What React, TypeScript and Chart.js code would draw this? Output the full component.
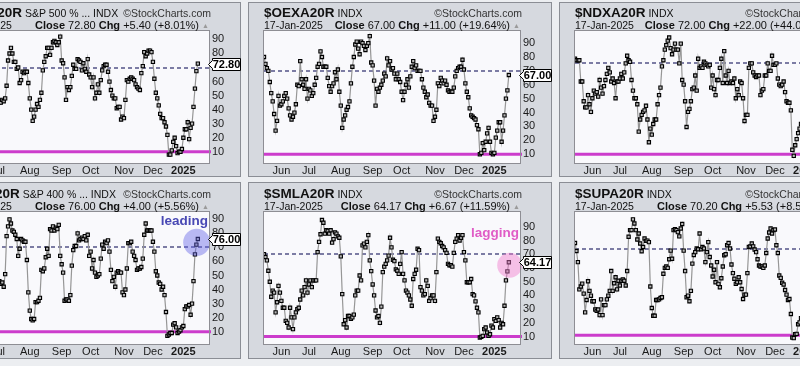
import React, { useEffect, useRef } from "react";
import { Chart, registerables } from "chart.js";
Chart.register(...registerables);

const FONT = "'Liberation Sans', Arial, Helvetica, sans-serif";

// ---- shared axis data ----
const monthTickIndex = [12, 31, 53, 75, 95, 118, 138, 159];
const monthTickLabels = ["Jun", "Jul", "Aug", "Sep", "Oct", "Nov", "Dec", "2025"];
const yTickValues = [10, 20, 30, 40, 50, 60, 70, 80, 90];
const X_MAX = 176.7;
const LOWER_LINE = 10;
const UPPER_LINE = 70;

// ---- series (one value per trading day, mid-May 2024 .. 17-Jan-2025) ----
const spxa20r = [
  78, 74, 70, 66, 58, 50, 44, 36, 28, 33,
  48, 44, 45, 47, 50, 52, 49, 42, 37, 34,
  36, 40, 45, 57, 58, 73, 63, 58, 55, 60,
  50, 46, 45, 45, 47, 46, 48, 57, 75, 80,
  84, 80, 74, 74, 69, 70, 59, 61, 67, 66,
  67, 67, 59, 48, 40, 32, 35, 40, 44, 42,
  47, 52, 68, 74, 78, 84, 84, 79, 84, 88,
  89, 88, 86, 88, 92, 75, 73, 63, 47, 56,
  54, 56, 64, 72, 69, 69, 76, 75, 74, 68,
  73, 69, 67, 76, 65, 63, 56, 63, 48, 52,
  58, 52, 61, 68, 71, 72, 72, 67, 60, 54,
  50, 48, 48, 41, 42, 42, 33, 35, 34, 47,
  61, 60, 62, 63, 62, 61, 58, 56, 55, 54,
  66, 71, 81, 78, 80, 82, 82, 81, 74, 62,
  52, 48, 43, 37, 34, 34, 31, 28, 22, 8,
  8, 11, 17, 20, 14, 9, 10, 10, 12, 20,
  26, 26, 31, 19, 27, 30, 42, 55, 67.4, 72.8,
];

const oexa20r = [
  80, 75, 72, 70, 62, 54, 48, 39, 27, 34,
  52, 45, 46, 48, 52, 54, 50, 43, 38, 35,
  37, 40, 46, 60, 59, 77, 64, 60, 57, 64,
  50, 57, 56, 52, 54, 60, 65, 73, 75, 84,
  80, 73, 73, 73, 65, 59, 55, 59, 61, 69,
  64, 71, 55, 45, 29, 35, 38, 42, 44, 48,
  61, 73, 80, 89, 91, 86, 82, 91, 90, 88,
  85, 88, 90, 95, 76, 74, 63, 45, 57, 55,
  58, 60, 63, 68, 66, 79, 74, 77, 71, 72,
  68, 64, 68, 64, 62, 55, 49, 55, 60, 64,
  58, 66, 73, 77, 72, 74, 70, 70, 70, 64,
  58, 55, 51, 53, 47, 45, 45, 34, 37, 42,
  61, 59, 65, 63, 61, 63, 60, 56, 55, 55,
  55, 58, 66, 70, 72, 73, 73, 78, 71, 61,
  55, 51, 43, 38, 37, 36, 35, 31, 28, 10,
  11, 18, 13, 19, 25, 29, 19, 11, 10, 11,
  22, 27, 33, 33, 19, 27, 38, 50, 56, 67,
];

const ndxa20r = [
  73, 72, 72, 72, 58, 58, 45, 41, 41, 49,
  43, 38, 47, 52, 50, 51, 48, 59, 54, 50,
  55, 59, 63, 67, 64, 58, 60, 57, 47, 58,
  58, 60, 63, 60, 64, 70, 75, 72, 71, 59,
  52, 47, 47, 43, 25, 33, 36, 38, 39, 42,
  33, 18, 27, 23, 30, 33, 33, 43, 49, 54,
  68, 72, 79, 82, 85, 87, 80, 76, 79, 83,
  79, 79, 70, 83, 59, 56, 45, 28, 38, 40,
  45, 53, 54, 62, 52, 73, 67, 68, 67, 71,
  70, 69, 68, 69, 54, 62, 53, 49, 59, 59,
  67, 73, 57, 78, 62, 57, 65, 57, 58, 57,
  60, 47, 53, 49, 58, 57, 47, 32, 36, 36,
  67, 70, 70, 64, 62, 61, 62, 62, 49, 52,
  53, 62, 62, 70, 65, 65, 75, 69, 69, 70,
  60, 56, 55, 56, 58, 51, 45, 44, 44, 39,
  13, 9, 16, 20, 24, 27, 30, 24, 29, 33,
  38, 36, 41, 45, 40, 38, 44, 48, 50, 72,
];

const mida20r = [
  60, 58, 55, 50, 45, 40, 35, 30, 25, 30,
  42, 40, 42, 44, 47, 50, 46, 40, 35, 33,
  35, 38, 44, 55, 56, 70, 60, 55, 52, 56,
  48, 46, 46, 44, 45, 42, 51, 78, 85, 90,
  87, 82, 81, 79, 76, 64, 69, 76, 75, 74,
  74, 61, 38, 25, 19, 18, 19, 31, 31, 32,
  34, 54, 53, 55, 63, 69, 64, 83, 82, 85,
  82, 84, 83, 86, 64, 58, 52, 32, 33, 33,
  32, 36, 57, 68, 71, 71, 80, 75, 76, 77,
  76, 78, 75, 79, 64, 67, 55, 61, 52, 49,
  50, 51, 62, 72, 69, 74, 73, 75, 67, 54,
  46, 49, 42, 52, 53, 52, 52, 38, 36, 40,
  55, 73, 73, 74, 67, 64, 61, 54, 55, 55,
  56, 62, 79, 87, 82, 82, 82, 82, 74, 67,
  53, 50, 45, 44, 40, 42, 36, 24, 7, 8,
  9, 9, 15, 16, 13, 9, 10, 11, 13, 14,
  26, 28, 28, 29, 22, 30, 46, 65, 72, 76,
];

const smla20r = [
  70, 68, 65.5, 58, 50, 39, 43.5, 42, 27.6, 35,
  47, 42, 36, 31, 31, 21.5, 20, 16.6, 31, 24,
  15.4, 24, 27.6, 30, 31, 37, 43.5, 40, 46, 51,
  42, 48, 51, 46, 51, 51, 51, 71.6, 79, 84.6,
  95, 93, 85, 87.5, 87, 85, 87.5, 78.5, 81, 86,
  85, 83, 82, 68.5, 41, 19, 22, 16.6, 25, 25,
  23, 24, 26, 40, 43.5, 43.5, 54.5, 51, 76.5, 77.8,
  75, 79, 84, 65.5, 57.7, 48, 40, 29, 24, 25,
  20, 31.8, 57, 61, 63, 65.5, 69, 82, 75, 66,
  65, 59, 58, 55.7, 63, 71.6, 55.7, 51, 43.5, 42,
  40, 37, 32.5, 52, 55.7, 58.7, 74, 73, 46, 43.5,
  40, 41, 51, 47, 36, 38, 40, 40, 36, 57,
  81.4, 79, 78, 76, 75, 73, 71, 63, 62, 62,
  61, 71, 79, 81.4, 84, 80, 82, 84, 71.6, 65.5,
  49.6, 49.6, 49.6, 52, 41, 40, 35.7, 31, 27.6, 9.3,
  9.8, 10.5, 15.4, 16.6, 13, 10.5, 11.7, 18, 16.6, 22.7,
  21.5, 24, 22, 16.6, 20, 19, 32.5, 51, 57.5, 64.17,
];

const supa20r = [
  74.4, 68.8, 61, 42, 44, 46, 39, 26, 34.6, 47.7, 41,
  37.6, 33.7, 33.7, 28, 27, 28, 24, 35, 24, 31, 31,
  35, 37.6, 41, 54.8, 41, 46.3, 50.5, 42, 48, 44.7,
  48, 49, 48, 44.7, 54.8, 78.7, 83.4, 83.4, 90.9, 88, 83.4,
  76.8, 81, 74, 68.6, 71.6, 77.5, 75.9, 76, 75, 44, 29,
  23.6, 23.6, 34.6, 34.6, 35, 36, 36.5, 52.9, 57, 58, 57, 63,
  69, 63.4, 83.4, 84, 83.4, 82, 79, 84.5, 87.6, 69, 54.8,
  36.5, 37.6, 33.7, 41, 60, 66, 68, 70.5, 70, 81, 70,
  71.6, 70.5, 61, 68, 75, 64.6, 58.7, 51, 55.7, 47,
  61, 45.9, 43.5, 49.8, 58, 65.8, 66.5, 72.8, 74.4, 70.5, 59.4,
  53.4, 49.4, 45.9, 47, 50.5, 47, 42.3, 35.3, 38.4, 38.4,
  53.4, 71.6, 72, 74, 72, 69.8, 68, 63, 58.7, 58, 58, 57,
  58.7, 67.4, 77.5, 81.7, 84.5, 81, 83.4, 83.8, 72.8, 67.4,
  51.7, 50, 46.6, 45.4, 41.6, 38.4, 34.6, 35.3, 24.8, 8.4,
  8, 10.7, 11, 17.7, 19,
  22, 26, 24, 28, 30, 27, 33, 36, 34, 40, 48, 56, 64.67, 70.2,
];

// ---- header texts ----
const symbols = ["$SPXA20R", "$OEXA20R", "$NDXA20R", "$MIDA20R", "$SMLA20R", "$SUPA20R"];
const descriptions = ["S&P 500 % ...", "", "", "S&P 400 % ...", "", ""];
const closes = [72.8, 67.0, 72.0, 76.0, 64.17, 70.2];
const changes = [
  "+5.40 (+8.01%)",
  "+11.00 (+19.64%)",
  "+22.00 (+44.00%)",
  "+4.00 (+5.56%)",
  "+6.67 (+11.59%)",
  "+5.53 (+8.55%)",
];
const seriesList = [spxa20r, oexa20r, ndxa20r, mida20r, smla20r, supa20r];
const yMins = [2, 3.7, 4.3, 1.2, 4.6, 3.9];
const yMaxs = [96, 98.7, 91.3, 95.2, 100.8, 96];

// annotations (data coordinates)
const notes: any[] = [
  null,
  null,
  null,
  { text: "leading", y: 88.8, color: "#4848b4", cx: 168.2, cy: 73.6, r: 13.5, fill: "rgba(95,95,230,0.42)" },
  { text: "lagging", y: 85, color: "#e05cc6", cx: 169.6, cy: 62, r: 12.5, fill: "rgba(240,120,205,0.45)" },
  null,
];

// ---- layout ----
const PANEL_W = 304;
const COL_LEFT = [-63, 248, 559];
const ROWS = [
  { top: 2, h: 175, padTop: 29, title1: 3, title2: 16 },
  { top: 182, h: 177, padTop: 30, title1: 4, title2: 17 },
];
const PLOT_H = 132;
const Y_AXIS_W = 32;

function decor(i: number) {
  return {
    id: "decor" + i,
    beforeDraw(chart: any) {
      const { ctx, chartArea: a } = chart;
      ctx.save();
      ctx.fillStyle = "#f9f9fc";
      ctx.fillRect(a.left, a.top, a.right - a.left, a.bottom - a.top);
      ctx.restore();
    },
    beforeDatasetsDraw(chart: any) {
      const { ctx, chartArea: a, scales } = chart;
      const y = scales.y;
      ctx.save();
      const yU = Math.round(y.getPixelForValue(UPPER_LINE));
      ctx.strokeStyle = "#7c7ca4";
      ctx.lineWidth = 2;
      ctx.setLineDash([4, 3]);
      ctx.beginPath();
      ctx.moveTo(a.left, yU);
      ctx.lineTo(a.right, yU);
      ctx.stroke();
      ctx.setLineDash([]);
      const yL = y.getPixelForValue(LOWER_LINE);
      ctx.strokeStyle = "#cc3ccc";
      ctx.lineWidth = 3;
      ctx.beginPath();
      ctx.moveTo(a.left, yL);
      ctx.lineTo(a.right + 2, yL);
      ctx.stroke();
      ctx.restore();
    },
    afterDatasetsDraw(chart: any) {
      const n = notes[i];
      if (!n) return;
      const { ctx, chartArea: a, scales } = chart;
      ctx.save();
      ctx.fillStyle = n.fill;
      ctx.beginPath();
      ctx.arc(scales.x.getPixelForValue(n.cx), scales.y.getPixelForValue(n.cy), n.r, 0, Math.PI * 2);
      ctx.fill();
      ctx.fillStyle = n.color;
      ctx.font = "bold 13.5px " + FONT;
      ctx.textAlign = "right";
      ctx.textBaseline = "middle";
      ctx.fillText(n.text, a.right - 1, scales.y.getPixelForValue(n.y));
      ctx.restore();
    },
    afterDraw(chart: any) {
      const { ctx, chartArea: a, scales } = chart;
      ctx.save();
      ctx.strokeStyle = "#8e8e94";
      ctx.lineWidth = 1;
      ctx.strokeRect(a.left - 0.5, a.top - 0.5, a.right - a.left + 1, a.bottom - a.top + 1);
      // close value tag
      const yc = Math.round(scales.y.getPixelForValue(closes[i])) + 0.5;
      const bx = a.right + 3.5;
      const bw = 28;
      const bh = 12;
      ctx.fillStyle = "#ffffff";
      ctx.strokeStyle = "#000000";
      ctx.beginPath();
      ctx.moveTo(a.right - 0.5, yc);
      ctx.lineTo(bx, yc - 4);
      ctx.lineTo(bx, yc - bh / 2);
      ctx.lineTo(bx + bw, yc - bh / 2);
      ctx.lineTo(bx + bw, yc + bh / 2);
      ctx.lineTo(bx, yc + bh / 2);
      ctx.lineTo(bx, yc + 4);
      ctx.closePath();
      ctx.fill();
      ctx.stroke();
      ctx.fillStyle = "#000";
      ctx.font = "bold 11px " + FONT;
      ctx.textAlign = "center";
      ctx.textBaseline = "middle";
      ctx.fillText(closes[i].toFixed(2), bx + bw / 2, yc + 0.5);
      ctx.restore();
    },
  };
}

function Panel({ i }: { i: number }) {
  const ref = useRef<HTMLCanvasElement>(null);
  const row = ROWS[Math.floor(i / 3)];
  const left = COL_LEFT[i % 3];
  useEffect(() => {
    const xAxisH = row.h - row.padTop - PLOT_H;
    const chart = new Chart(ref.current as HTMLCanvasElement, {
      type: "line",
      data: {
        datasets: [
          {
            data: seriesList[i].map((v, k) => ({ x: k, y: v })),
            borderColor: "#969696",
            borderWidth: 1.2,
            pointStyle: "rect",
            pointRadius: 2.3,
            pointBackgroundColor: "#b8b8b8",
            pointBorderColor: "#000000",
            pointBorderWidth: 1.1,
            tension: 0,
          } as any,
        ],
      },
      options: {
        animation: false,
        responsive: false,
        devicePixelRatio: 1,
        layout: { padding: { left: 16, top: row.padTop, right: 0, bottom: 0 } },
        plugins: { legend: { display: false }, tooltip: { enabled: false }, title: { display: false } },
        scales: {
          x: {
            type: "linear",
            min: 0,
            max: X_MAX,
            grid: { display: false, drawTicks: false },
            border: { display: false },
            afterBuildTicks: (s: any) => {
              s.ticks = monthTickIndex.map((v) => ({ value: v }));
            },
            afterFit: (s: any) => {
              s.height = xAxisH;
            },
            ticks: {
              autoSkip: false,
              maxRotation: 0,
              padding: 1,
              color: "#1a1a1a",
              font: (c: any) => ({
                family: FONT,
                size: 11,
                weight: c.tick && c.tick.value === 159 ? "bold" : "normal",
              }),
              callback: (v: any) => {
                const k = monthTickIndex.indexOf(Number(v));
                return k >= 0 ? monthTickLabels[k] : "";
              },
            },
          },
          y: {
            position: "right",
            min: yMins[i],
            max: yMaxs[i],
            grid: { display: false, drawTicks: false },
            border: { display: false },
            afterBuildTicks: (s: any) => {
              s.ticks = yTickValues.map((v) => ({ value: v }));
            },
            afterFit: (s: any) => {
              s.width = Y_AXIS_W;
            },
            ticks: {
              padding: 3,
              color: "#1a1a1a",
              font: { family: FONT, size: 11 },
              callback: (v: any) => String(v),
            },
          },
        },
      } as any,
      plugins: [decor(i)],
    });
    return () => chart.destroy();
  }, []);

  const txt: React.CSSProperties = {
    position: "absolute",
    whiteSpace: "nowrap",
    fontFamily: FONT,
    color: "#111",
    lineHeight: "14px",
  };
  return (
    <div
      style={{
        position: "absolute",
        left,
        top: row.top,
        width: PANEL_W,
        height: row.h,
        background: "#d6d9df",
        boxShadow: "inset 0 0 0 1px #8b8e95",
      }}
    >
      <canvas ref={ref} width={PANEL_W} height={row.h} style={{ position: "absolute", left: 0, top: 0 }} />
      <div style={{ ...txt, left: 16, top: row.title1 }}>
        <span style={{ fontWeight: "bold", fontSize: 13.5 }}>{symbols[i]}</span>
        {descriptions[i] ? <span style={{ fontSize: 10.5 }}> {descriptions[i]}</span> : null}
        <span style={{ fontSize: 10.5 }}> INDX</span>
      </div>
      <div style={{ ...txt, right: 30, top: row.title1 + 1, fontSize: 10.5, color: "#333" }}>©StockCharts.com</div>
      <div style={{ ...txt, left: 16, top: row.title2, fontSize: 10.5 }}>17-Jan-2025</div>
      <div style={{ ...txt, right: 32, top: row.title2, fontSize: 11 }}>
        <b>Close</b> {closes[i].toFixed(2)} <b>Chg</b> {changes[i]}{" "}
        <span style={{ fontSize: 7, color: "#9a9a9a", verticalAlign: "1px" }}>▲</span>
      </div>
    </div>
  );
}

export default function App() {
  return (
    <div
      style={{
        position: "fixed",
        left: 0,
        top: 0,
        width: 800,
        height: 366,
        overflow: "hidden",
        background: "#eceef1",
      }}
    >
      {[0, 1, 2, 3, 4, 5].map((i) => (
        <Panel key={i} i={i} />
      ))}
    </div>
  );
}
